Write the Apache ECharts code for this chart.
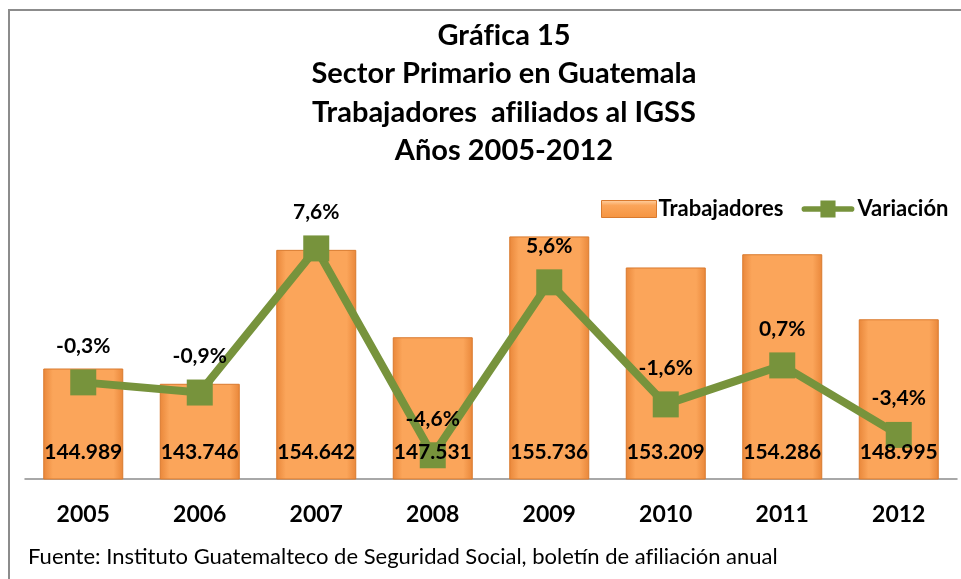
<!DOCTYPE html>
<html>
<head>
<meta charset="utf-8">
<script src="https://cdn.jsdelivr.net/npm/echarts@6/dist/echarts.min.js"></script>
<style>
  html, body { margin: 0; padding: 0; background: #fff; }
  #chart { width: 961px; height: 579px; }
</style>
</head>
<body>
<div id="chart"></div>
<script>
const years = ['2005', '2006', '2007', '2008', '2009', '2010', '2011', '2012']
const trabajadores = [144989, 143746, 154642, 147531, 155736, 153209, 154286, 148995]
const variacion = [-0.3, -0.9, 7.6, -4.6, 5.6, -1.6, 0.7, -3.4]
const titleLines = ['Gráfica 15', 'Sector Primario en Guatemala', 'Trabajadores  afiliados al IGSS', 'Años 2005-2012']
const fuente = 'Fuente: Instituto Guatemalteco de Seguridad Social, boletín de afiliación anual'

const font = 'Lato, "Liberation Sans", sans-serif'
const green = '#77933C'

const fmtMiles = (v) => String(v).replace(/\B(?=(\d{3})+(?!\d))/g, '.')
const fmtPct = (v) => v.toFixed(1).replace('.', ',') + '%'
// keep Lato from drawing the "fi" ligature
const noLig = (s) => s.replace(/fi/g, 'f\u200Ci')

const barFill = new echarts.graphic.LinearGradient(0, 0, 1, 0, [
  { offset: 0, color: '#E9873A' },
  { offset: 0.12, color: '#FBA55A' },
  { offset: 0.88, color: '#FBA55A' },
  { offset: 1, color: '#E9873A' },
])
const legendBarFill = new echarts.graphic.LinearGradient(0, 0, 0, 1, [
  { offset: 0, color: '#FFD3A6' },
  { offset: 0.3, color: '#FBA55A' },
  { offset: 1, color: '#F59440' },
])

const myChart = echarts.init(document.getElementById('chart'))
const option = {
  backgroundColor: '#fff',
  animation: false,
  title: {
    text: noLig(titleLines.join('\n')),
    left: 499,
    top: 11,
    textAlign: 'center',
    textStyle: {
      fontFamily: font,
      fontSize: 29,
      fontWeight: 'bold',
      color: '#000',
      lineHeight: 38.5,
    },
  },
  legend: {
    left: 601,
    top: 198,
    width: 360,
    padding: 0,
    itemGap: 18,
    itemWidth: 55,
    itemHeight: 17,
    textStyle: { fontFamily: font, fontSize: 22, fontWeight: 'bold', color: '#000', padding: [0, 0, 0, -3] },
    data: [
      { name: 'Trabajadores', icon: 'rect', itemStyle: { color: legendBarFill, borderColor: '#D97A2E', borderWidth: 1 } },
      { name: 'Variación', icon: 'path://M3,6 L20,6 L20,0 L36,0 L36,6 L53,6 A3,3 0 0 1 53,12 L36,12 L36,18 L20,18 L20,12 L3,12 A3,3 0 0 1 3,6 Z' },
    ],
  },
  grid: { left: 25, right: 4, top: 184, bottom: 100 },
  xAxis: {
    type: 'category',
    data: years,
    axisTick: { show: false },
    axisLine: { onZero: false, lineStyle: { color: '#8C8C8C', width: 1.5 } },
    axisLabel: { fontFamily: font, fontSize: 23, fontWeight: 'bold', color: '#000', margin: 24 },
  },
  yAxis: [
    { type: 'value', min: 136000, max: 160000, show: false, splitLine: { show: false } },
    { type: 'value', min: -6, max: 11.4, show: false, splitLine: { show: false } },
  ],
  series: [
    {
      name: 'Trabajadores',
      type: 'bar',
      data: trabajadores,
      barWidth: 80,
      itemStyle: { color: barFill, borderColor: '#D97A2E', borderWidth: 1 },
    },
    {
      name: 'Variación',
      type: 'line',
      yAxisIndex: 1,
      data: variacion,
      symbol: 'rect',
      symbolSize: 26,
      lineStyle: { color: green, width: 8 },
      itemStyle: { color: green },
      label: {
        show: true,
        position: 'top',
        distance: 13,
        formatter: (p) => fmtPct(p.value),
        fontFamily: font,
        fontSize: 21,
        fontWeight: 'bold',
        color: '#000',
      },
    },
    {
      // same bars again, transparent, so the value labels sit above the line
      name: 'etiquetas',
      type: 'bar',
      data: trabajadores,
      barWidth: 80,
      barGap: '-100%',
      z: 10,
      silent: true,
      itemStyle: { color: 'rgba(0,0,0,0)' },
      label: {
        show: true,
        position: 'insideBottom',
        distance: 16,
        formatter: (p) => fmtMiles(p.value),
        fontFamily: font,
        fontSize: 21,
        fontWeight: 'bold',
        color: '#000',
      },
    },
  ],
  graphic: [
    {
      type: 'polyline',
      shape: { points: [[9, 579], [9, 10], [961, 10]] },
      style: { stroke: '#8C8C8C', lineWidth: 2, fill: null },
    },
    {
      type: 'text',
      left: 28,
      top: 546,
      style: { text: noLig(fuente), fontFamily: font, fontSize: 22, fill: '#000' },
    },
  ],
}
myChart.setOption(option)
</script>
</body>
</html>
